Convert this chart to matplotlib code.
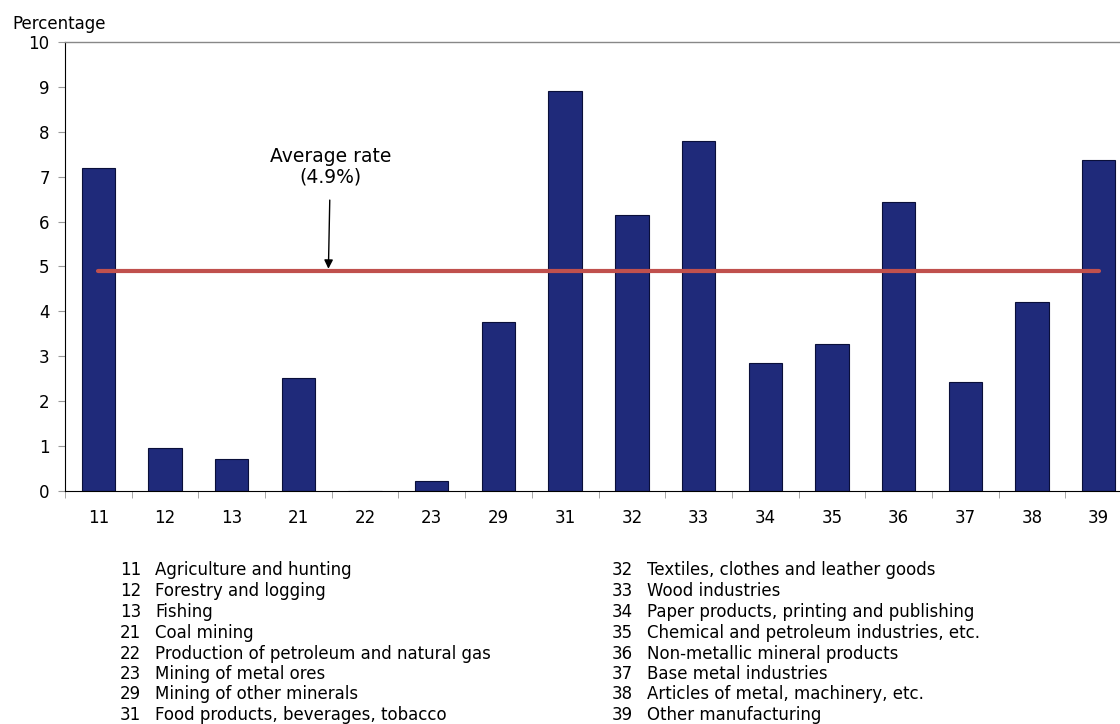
import numpy as np
import matplotlib
matplotlib.use('Agg')
import matplotlib.pyplot as plt

plt.rcParams['font.family'] = ['DejaVu Sans']

# ==========================================
# data
# ==========================================
codes = ['11', '12', '13', '21', '22', '23', '29', '31',
         '32', '33', '34', '35', '36', '37', '38', '39']
rates = [7.2, 0.95, 0.71, 2.52, 0.0, 0.22, 3.77, 8.91,
         6.15, 7.8, 2.86, 3.27, 6.43, 2.43, 4.2, 7.37]
avg_rate = 4.9
names = ['Agriculture and hunting', 'Forestry and logging', 'Fishing',
         'Coal mining', 'Production of petroleum and natural gas',
         'Mining of metal ores', 'Mining of other minerals',
         'Food products, beverages, tobacco',
         'Textiles, clothes and leather goods', 'Wood industries',
         'Paper products, printing and publishing',
         'Chemical and petroleum industries, etc.',
         'Non-metallic mineral products', 'Base metal industries',
         'Articles of metal, machinery, etc.', 'Other manufacturing']
y_ticks = list(range(0, 11))

W, H = 1120, 724
fig = plt.figure(figsize=(W / 100, H / 100), dpi=100)

# axes runs a bit past the right edge, like the original
ax = fig.add_axes([65 / W, 1 - 491 / H, 1067 / W, 449 / H])

x = np.arange(len(codes))
ax.bar(x, rates, width=0.5, color='#1F2A7A', edgecolor='#0A0F3A', linewidth=0.8, zorder=2)

# average line (centre of first bar to centre of last)
ax.plot([x[0], x[-1]], [avg_rate, avg_rate], color='#C0504D', linewidth=3,
        solid_capstyle='round', zorder=3)
ax.annotate('Average rate\n(4.9%)', xy=(3.45, avg_rate + 0.05), xytext=(3.48, 7.22),
            ha='center', va='center', fontsize=13.5, linespacing=1.05,
            arrowprops=dict(arrowstyle='-|>', color='black', lw=1.0,
                            shrinkA=8, shrinkB=0, mutation_scale=13))

ax.set_xlim(-0.5, len(codes) - 0.5)
ax.set_ylim(0, 10)
ax.set_yticks(y_ticks)
ax.set_xticks(x)
ax.set_xticklabels(codes)
ax.set_xticks(np.arange(len(codes) + 1) - 0.5, minor=True)
ax.tick_params(axis='x', which='major', length=0, pad=13, labelsize=12)
ax.tick_params(axis='x', which='minor', length=5, color='#999999', direction='out')
ax.tick_params(axis='y', length=5, color='#999999', labelsize=12, pad=6)

ax.spines['right'].set_visible(False)
ax.spines['top'].set_color('#888888')
ax.spines['top'].set_linewidth(1.0)
ax.spines['left'].set_color('black')
ax.spines['bottom'].set_color('black')

fig.text(12 / W, 1 - 24 / H, 'Percentage', ha='left', va='center', fontsize=12)

# legend of codes, two columns
row_y = [570, 591, 612, 633, 654, 674, 694, 715]
for i, (c, n) in enumerate(zip(codes, names)):
    col = i // 8
    yy = 1 - row_y[i % 8] / H
    x0 = 120 if col == 0 else 612
    fig.text(x0 / W, yy, c, ha='left', va='center', fontsize=12)
    fig.text((x0 + 35) / W, yy, n, ha='left', va='center', fontsize=12)

plt.savefig('out.png', dpi=100)
plt.close()
